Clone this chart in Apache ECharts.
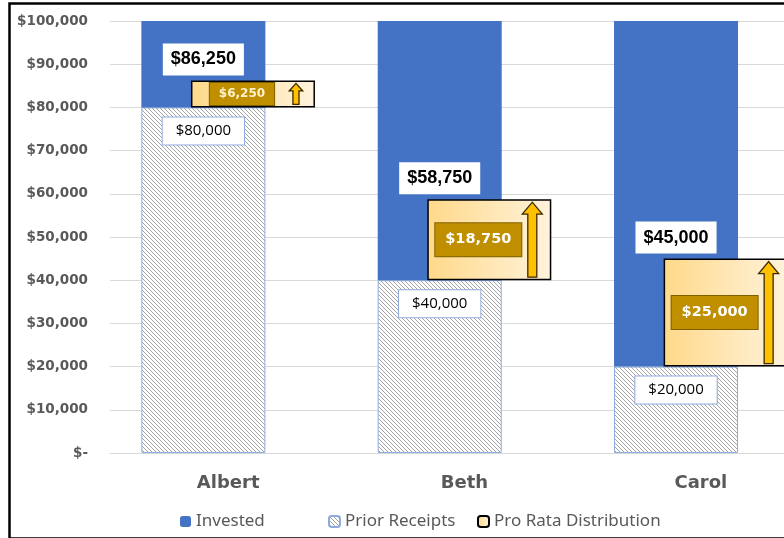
<!DOCTYPE html>
<html>
<head>
<meta charset="utf-8">
<script src="https://cdn.jsdelivr.net/npm/echarts@6/dist/echarts.min.js"></script>
<style>
html,body{margin:0;padding:0;background:#fff}
#main{width:784px;height:538px}
</style>
</head>
<body>
<div id="main"></div>
<script>
// data
var categories = ['Albert', 'Beth', 'Carol'];
var priorReceipts = [80000, 40000, 20000];
var invested = [20000, 60000, 80000];
var proRata = [6250, 18750, 25000];
var yTickLabels = ['$-', '$10,000', '$20,000', '$30,000', '$40,000', '$50,000',
    '$60,000', '$70,000', '$80,000', '$90,000', '$100,000'];

var BAR_W = 124;
var OFFSET = BAR_W * 0.4 / 2; // two stacks overlapping by 60%

function fmt(v) {
    return '$' + String(v).replace(/\B(?=(\d{3})+(?!\d))/g, ',');
}

// hatch for prior receipts
function hatch() {
    var c = document.createElement('canvas');
    c.width = 4; c.height = 4;
    var ctx = c.getContext('2d');
    ctx.fillStyle = '#fff';
    ctx.fillRect(0, 0, 4, 4);
    ctx.strokeStyle = '#a6a6a6';
    ctx.lineWidth = 1;
    [-4, 0, 4].forEach(function (x0) {
        ctx.beginPath();
        ctx.moveTo(x0, 0);
        ctx.lineTo(x0 + 4, 4);
        ctx.stroke();
    });
    return c;
}

var chart = echarts.init(document.getElementById('main'));

var proRataData = proRata.map(function (v, i) {
    var small = v < 10000;
    return {
        value: v,
        label: {
            fontSize: small ? 12 : 14.5,
            color: small ? '#FFF2CC' : '#fff',
            padding: small ? [5, 9] : [9, 10]
        }
    };
});

var arrowData = categories.map(function (c, i) {
    return [i, priorReceipts[i], proRata[i]];
});

var legendText = {color: '#595959', fontSize: 17, fontFamily: 'Noto Sans'};

chart.setOption({
    animation: false,
    textStyle: {fontFamily: 'DejaVu Sans'},
    graphic: [{
        type: 'rect',
        left: 7, top: 1,
        shape: {width: 800, height: 535},
        style: {fill: 'none', stroke: '#000', lineWidth: 2.5},
        z: 100
    }],
    grid: {left: 110, right: -35, top: 21, bottom: 85, outerBoundsMode: 'none', containLabel: false},
    legend: [
        {data: ['Invested'], left: 175, top: 508, itemWidth: 11, itemHeight: 11, textStyle: legendText},
        {data: ['Prior Receipts'], left: 323, top: 508, itemWidth: 11, itemHeight: 11, textStyle: legendText},
        {data: ['Pro Rata Distribution'], left: 472, top: 508, itemWidth: 11, itemHeight: 11, textStyle: legendText}
    ],
    xAxis: {
        type: 'category',
        data: categories,
        axisLine: {lineStyle: {color: '#D9D9D9'}},
        axisTick: {show: false},
        axisLabel: {color: '#595959', fontSize: 18, fontWeight: 'bold', fontFamily: 'DejaVu Sans', margin: 21}
    },
    yAxis: {
        type: 'value',
        min: 0, max: 100000, interval: 10000,
        axisLabel: {
            color: '#595959', fontSize: 13.5, fontWeight: 'bold', fontFamily: 'DejaVu Sans', margin: 22,
            formatter: function (v) { return yTickLabels[Math.round(v / 10000)]; }
        },
        splitLine: {lineStyle: {color: '#D9D9D9'}}
    },
    series: [
        {
            name: 'Prior Receipts',
            type: 'bar',
            stack: 'a',
            barWidth: BAR_W,
            barGap: '-60%',
            data: priorReceipts,
            itemStyle: {color: {image: hatch(), repeat: 'repeat'}, borderColor: '#8FAADC', borderWidth: 1},
            label: {
                show: true, position: 'insideTop', distance: 10,
                formatter: function (p) { return fmt(p.value); },
                color: '#000', fontSize: 15, fontFamily: 'Open Sans',
                backgroundColor: '#fff', borderColor: '#8FAADC', borderWidth: 1, padding: [6, 13]
            }
        },
        {
            name: 'Invested',
            type: 'bar',
            stack: 'a',
            barWidth: BAR_W,
            data: invested,
            itemStyle: {color: '#4472C4'}
        },
        {
            name: 'base',
            type: 'bar',
            stack: 'b',
            barWidth: BAR_W,
            data: priorReceipts,
            itemStyle: {color: 'transparent'},
            silent: true
        },
        {
            name: 'Pro Rata Distribution',
            type: 'bar',
            stack: 'b',
            barWidth: BAR_W,
            z: 3,
            data: proRataData,
            itemStyle: {
                color: new echarts.graphic.LinearGradient(0, 0, 1, 0, [
                    {offset: 0, color: '#FFD98A'},
                    {offset: 1, color: '#FFF3DC'}
                ]),
                borderColor: '#000',
                borderWidth: 1.5
            },
            label: {
                show: true, position: 'inside', offset: [-11, 0],
                formatter: function (p) { return fmt(p.value); },
                fontWeight: 'bold', fontFamily: 'DejaVu Sans',
                backgroundColor: '#BF8F00', borderColor: '#7F6000', borderWidth: 1
            }
        },
        {
            // arrows + totals above each distribution box
            name: 'arrows',
            type: 'custom',
            z: 5,
            silent: true,
            data: arrowData,
            renderItem: function (params, api) {
                var i = api.value(0);
                var base = api.value(1), add = api.value(2);
                var p0 = api.coord([i, base]);
                var p1 = api.coord([i, base + add]);
                var cx = p0[0], yb = p0[1], yt = p1[1];
                var h = yb - yt;
                var ax = cx + OFFSET + BAR_W / 2 - 19;
                var top = yt + 3, bot = yb - 3;
                var hw = Math.min(10, h * 0.25), hh = Math.min(12, h * 0.28), sw = hw * 0.45;
                return {
                    type: 'group',
                    children: [{
                        type: 'polygon',
                        shape: {points: [
                            [ax - sw, bot], [ax - sw, top + hh], [ax - hw, top + hh], [ax, top],
                            [ax + hw, top + hh], [ax + sw, top + hh], [ax + sw, bot]
                        ]},
                        style: {fill: '#FFC000', stroke: '#3a2a00', lineWidth: 1.3}
                    }, {
                        type: 'text',
                        x: cx - OFFSET,
                        y: yt - 5,
                        style: {
                            text: fmt(base + add),
                            font: 'bold 18px "Liberation Sans"',
                            fill: '#000',
                            align: 'center',
                            verticalAlign: 'bottom',
                            backgroundColor: '#fff',
                            padding: [7, 8]
                        }
                    }]
                };
            }
        }
    ]
});
</script>
</body>
</html>
